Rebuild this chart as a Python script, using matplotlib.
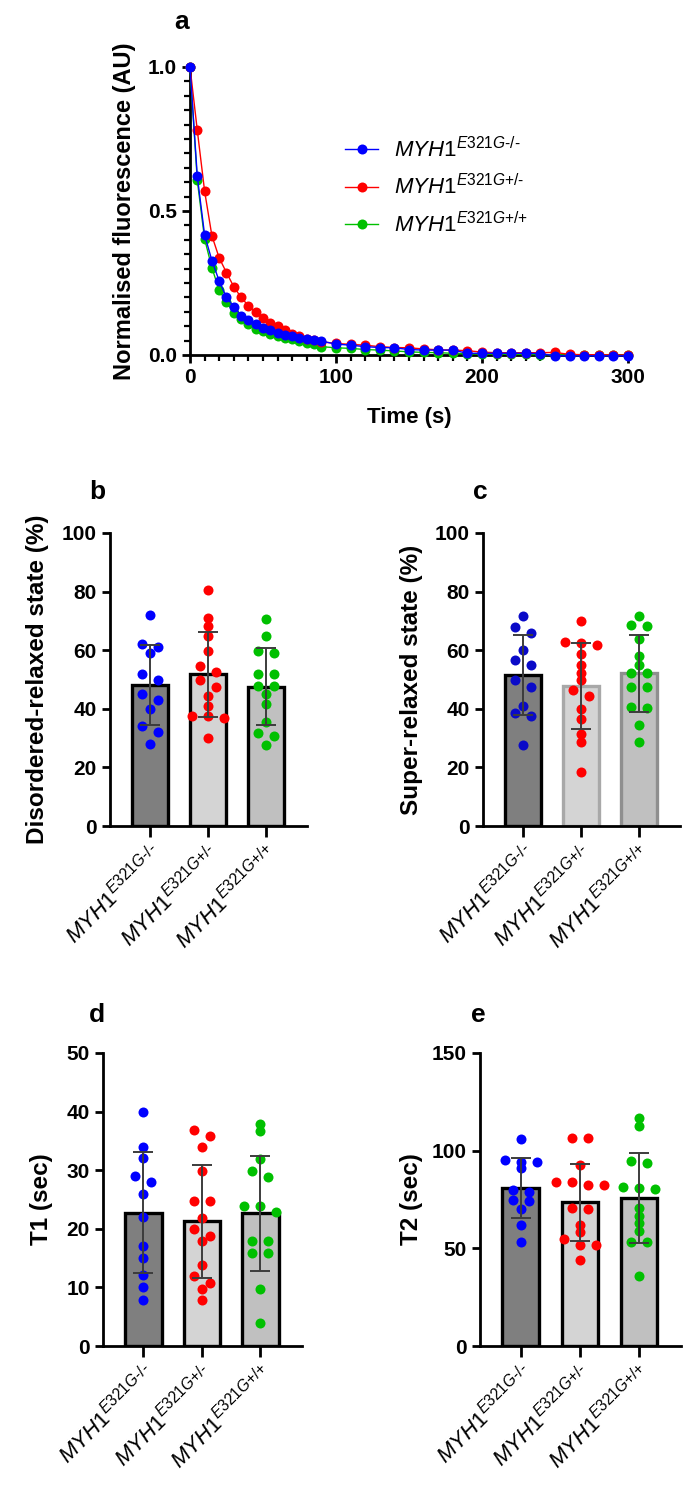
import numpy as np
import matplotlib
matplotlib.use("Agg")
import matplotlib.pyplot as plt
from matplotlib.lines import Line2D
from matplotlib.ticker import MultipleLocator, FormatStrFormatter

plt.rcParams["font.family"] = ["Liberation Sans", "DejaVu Sans"]
plt.rcParams["mathtext.fontset"] = "custom"
plt.rcParams["mathtext.it"] = "Liberation Sans:italic"
plt.rcParams["mathtext.rm"] = "Liberation Sans"
plt.rcParams["mathtext.bf"] = "Liberation Sans:bold"

# ---- panel a: fluorescence decay ----
time_s = [0, 5, 10, 15, 20, 25, 30, 35, 40, 45, 50, 55, 60, 65, 70, 75, 80, 85, 90,
          100, 110, 120, 130, 140, 150, 160, 170, 180, 190, 200, 210, 220, 230, 240,
          250, 260, 270, 280, 290, 300]
fluor_ko = [1.00, 0.62, 0.417, 0.328, 0.257, 0.200, 0.168, 0.137, 0.122, 0.106, 0.095,
            0.086, 0.078, 0.071, 0.065, 0.059, 0.055, 0.051, 0.048,
            0.038, 0.034, 0.029, 0.026, 0.025, 0.019, 0.017, 0.017, 0.017, 0.006, 0.006,
            0.006, 0.006, 0.006, 0.005, -0.003, -0.003, -0.003, -0.003, -0.003, -0.003]
fluor_het = [1.00, 0.78, 0.569, 0.414, 0.337, 0.286, 0.237, 0.200, 0.171, 0.149, 0.128,
             0.111, 0.099, 0.086, 0.074, 0.065, 0.057, 0.051, 0.046,
             0.040, 0.037, 0.034, 0.029, 0.026, 0.025, 0.021, 0.018, 0.017, 0.015, 0.010,
             0.008, 0.008, 0.008, 0.008, 0.009, 0.002, 0.001, 0.001, 0.000, 0.000]
fluor_wt = [1.00, 0.606, 0.403, 0.303, 0.225, 0.183, 0.146, 0.126, 0.109, 0.091, 0.082,
            0.074, 0.065, 0.059, 0.054, 0.048, 0.042, 0.038, 0.029,
            0.025, 0.023, 0.019, 0.017, 0.014, 0.011, 0.009, 0.008, 0.006, 0.004, 0.003,
            0.003, 0.002, 0.002, 0.001, 0.001, 0.000, 0.000, 0.000, 0.000, 0.000]

genotypes = ["\u2010/\u2010", "+/\u2010", "+/+"]

# ---- panels b-e: per-fibre values ----
drx_ko = [72, 61, 62, 59, 52, 50, 43, 45, 40, 34, 32, 28]
drx_het = [80.6, 71, 68.1, 64.7, 59.6, 54.7, 52.7, 49.7, 47.6, 44.4, 40.8, 37.6, 36.8, 37.6, 30]
drx_wt = [70.6, 64.7, 59.6, 59, 51.9, 51.9, 47.8, 47.8, 45.1, 41.6, 35.6, 31.7, 30.8, 27.7]

srx_ko = [71.8, 67.8, 65.8, 59.9, 55, 56.7, 49.7, 47.6, 41, 37.6, 38.5, 27.7]
srx_het = [69.8, 62.9, 61.8, 62.4, 58.8, 55, 52.2, 49.7, 46.5, 44.4, 39.9, 36.5, 31.4, 28.5, 18.6]
srx_wt = [71.8, 68.3, 68.7, 63.8, 57.9, 55, 52.2, 52.2, 47.6, 47.6, 40.2, 40.5, 34.5, 28.8]

t1_ko = [40, 34, 32, 29, 28, 26, 22, 17, 15, 12.2, 10, 7.8]
t1_het = [36.8, 35.9, 34, 29.8, 24.8, 24.8, 21.8, 19.9, 18.8, 17.9, 13.8, 11.9, 10.8, 9.8, 7.9]
t1_wt = [37.9, 36.7, 31.9, 29.8, 28.9, 23.9, 23.9, 22.8, 17.9, 17.9, 15.9, 15.9, 9.8, 4]

t2_ko = [106, 95, 94, 94, 91, 80, 79, 75, 74, 70, 62, 53]
t2_het = [106.3, 106.3, 92.7, 82.5, 82.5, 84.2, 84.2, 70, 70.9, 62.1, 58.2, 54.8, 51.9, 51.9, 44.2]
t2_wt = [116.6, 112.7, 93.7, 94.6, 80.2, 81, 81.5, 70.8, 66.6, 63.2, 59, 53, 53, 35.6]

BLUE, RED, GREEN = "#0000ff", "#ff0000", "#00c000"
W, H = 694, 1486


def geno_label(g):
    # braces keep mathtext from spacing "+" as a binary operator
    return r"$\mathit{MYH1}^{\mathit{E321G" + g.replace("+", "{+}") + "}}$"


def px_rect(left, right, top, bottom):
    return [left / W, 1 - bottom / H, (right - left) / W, (bottom - top) / H]


def swarm_x(ax, vals, center, step_px=16, thresh_px=6.5):
    # spread points with near-equal values sideways, GraphPad style
    fig = ax.figure
    pos = ax.get_position()
    y0, y1 = ax.get_ylim()
    x0, x1 = ax.get_xlim()
    ppy = pos.height * fig.get_figheight() * fig.dpi / (y1 - y0)
    ppx = pos.width * fig.get_figwidth() * fig.dpi / (x1 - x0)
    vals = np.asarray(vals, dtype=float)
    order = np.argsort(-vals, kind="stable")
    xs = np.zeros(len(vals))
    i = 0
    while i < len(order):
        start = vals[order[i]]
        j = i
        while j + 1 < len(order) and (start - vals[order[j + 1]]) * ppy < thresh_px:
            j += 1
        k = j - i + 1
        for m, idx in enumerate(order[i:j + 1]):
            xs[idx] = center + (m - (k - 1) / 2) * step_px / ppx
        i = j + 1
    return xs


def style_axes(ax):
    for s in ["top", "right"]:
        ax.spines[s].set_visible(False)
    for s in ["left", "bottom"]:
        ax.spines[s].set_linewidth(2)
    ax.tick_params(axis="both", width=2, length=6, labelsize=15)


def bold_ticks(ax, axis="both"):
    labels = []
    if axis in ("both", "y"):
        labels += ax.get_yticklabels()
    if axis in ("both", "x"):
        labels += ax.get_xticklabels()
    for t in labels:
        t.set_fontweight("bold")


def bar_panel(ax, groups, ymax, ystep, ylabel, label_x, dot_colors, faces, edges):
    ax.set_xlim(-0.69, 2.71)
    ax.set_ylim(0, ymax)
    style_axes(ax)
    pos = np.arange(len(groups))
    means = [np.mean(g) for g in groups]
    sds = [np.std(g, ddof=1) for g in groups]
    ax.bar(pos, means, width=0.62, color=faces, edgecolor=edges, linewidth=2.4, zorder=1)
    for i, g in enumerate(groups):
        xs = swarm_x(ax, g, pos[i])
        ax.plot(xs, g, "o", color=dot_colors[i], ms=7.2, mec="none", zorder=3, clip_on=False)
    ax.errorbar(pos, means, yerr=sds, fmt="none", ecolor="#3c3c3c", elinewidth=1.4,
                capsize=7.5, capthick=1.4, zorder=4)
    ax.yaxis.set_major_locator(MultipleLocator(ystep))
    bold_ticks(ax, "y")
    ax.set_xticks(pos)
    ax.set_xticklabels([geno_label(g) for g in genotypes], rotation=45, ha="right",
                       rotation_mode="anchor", fontsize=16)
    ax.tick_params(axis="x", length=8, pad=3)
    ax.set_ylabel(ylabel, fontsize=17.5, fontweight="bold")
    ax.yaxis.set_label_coords(label_x, 0.5)


fig = plt.figure(figsize=(W / 100, H / 100), dpi=100)

# ---- a ----
ax_a = fig.add_axes(px_rect(190, 628, 67, 355))
ax_a.set_xlim(0, 300)
ax_a.set_ylim(0, 1.0)
style_axes(ax_a)
ax_a.plot(time_s, fluor_wt, "-o", color=GREEN, ms=7.2, lw=1, mec="none", clip_on=False, zorder=3)
ax_a.plot(time_s, fluor_het, "-o", color=RED, ms=7.2, lw=1, mec="none", clip_on=False, zorder=4)
ax_a.plot(time_s, fluor_ko, "-o", color=BLUE, ms=7.2, lw=1, mec="none", clip_on=False, zorder=5)
ax_a.xaxis.set_major_locator(MultipleLocator(100))
ax_a.xaxis.set_minor_locator(MultipleLocator(10))
ax_a.yaxis.set_major_locator(MultipleLocator(0.5))
ax_a.yaxis.set_minor_locator(MultipleLocator(0.05))
ax_a.yaxis.set_major_formatter(FormatStrFormatter("%.1f"))
ax_a.tick_params(which="minor", width=1.6, length=4)
bold_ticks(ax_a)
ax_a.set_xlabel("Time (s)", fontsize=16, fontweight="bold", labelpad=14)
ax_a.set_ylabel("Normalised fluorescence (AU)", fontsize=17, fontweight="bold")
ax_a.yaxis.set_label_coords(-0.124, 0.5)
handles = [Line2D([], [], color=c, marker="o", ms=7.2, lw=1, mec="none")
           for c in (BLUE, RED, GREEN)]
ax_a.legend(handles, [geno_label(g) for g in genotypes], loc="center left",
            bbox_to_anchor=(0.354, 0.583), frameon=False, fontsize=16,
            handlelength=1.5, handletextpad=0.7, labelspacing=0.55,
            borderpad=0, borderaxespad=0)

# ---- b ----
ax_b = fig.add_axes(px_rect(110, 307, 533, 826))
bar_panel(ax_b, [drx_ko, drx_het, drx_wt], 100, 20, "Disordered-relaxed state (%)", -0.312,
          [BLUE, RED, GREEN], ["#7f7f7f", "#d4d4d4", "#c0c0c0"], ["black"] * 3)

# ---- c ----
ax_c = fig.add_axes(px_rect(483, 680, 533, 826))
bar_panel(ax_c, [srx_ko, srx_het, srx_wt], 100, 20, "Super-relaxed state (%)", -0.307,
          ["#0a0ac8", RED, GREEN], ["#7f7f7f", "#d4d4d4", "#c0c0c0"],
          ["black", "#a8a8a8", "#8f8f8f"])

# ---- d ----
ax_d = fig.add_axes(px_rect(103, 302, 1053, 1346))
bar_panel(ax_d, [t1_ko, t1_het, t1_wt], 50, 10, "T1 (sec)", -0.249,
          [BLUE, RED, GREEN], ["#7f7f7f", "#d4d4d4", "#c0c0c0"], ["black"] * 3)

# ---- e ----
ax_e = fig.add_axes(px_rect(480, 681, 1053, 1346))
bar_panel(ax_e, [t2_ko, t2_het, t2_wt], 150, 50, "T2 (sec)", -0.286,
          [BLUE, RED, GREEN], ["#7f7f7f", "#d4d4d4", "#c0c0c0"], ["black"] * 3)

for letter, x, y in [("a", 182, 22), ("b", 97, 492), ("c", 480, 492),
                     ("d", 97, 1015), ("e", 478, 1015)]:
    fig.text(x / W, 1 - y / H, letter, fontsize=19, weight="bold", ha="center", va="center")

fig.savefig("out.png", dpi=100)
